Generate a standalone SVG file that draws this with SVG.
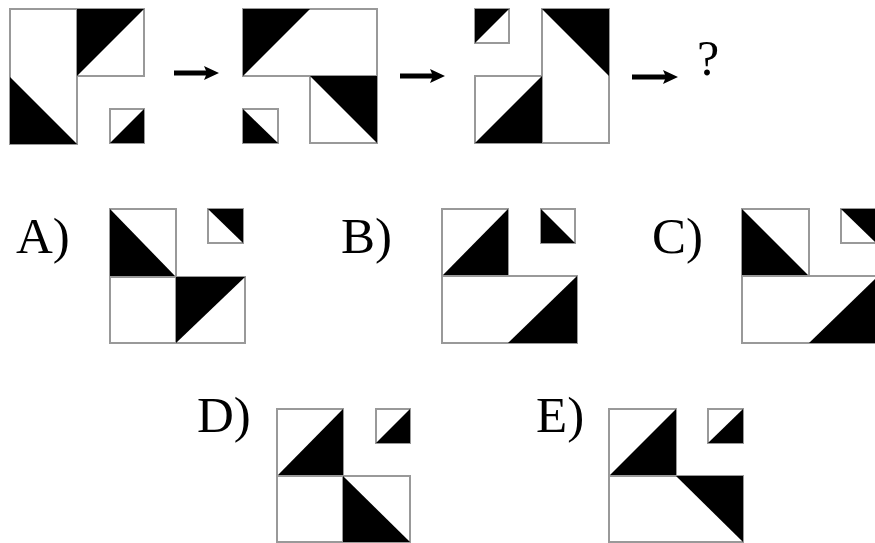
<svg xmlns="http://www.w3.org/2000/svg" width="875" height="543" viewBox="0 0 875 543">
<style>
.b{fill:#fff;stroke:#999;stroke-width:2}
.k{fill:#000}
.l{font-family:"Liberation Serif",serif;font-size:51px;fill:#000}
.a{stroke:#000;stroke-width:5}
</style>
<rect width="875" height="543" fill="#fff"/>
<g id="fig1">
<rect class="b" x="10" y="9" width="67" height="135"/>
<polygon class="k" points="10,77 10,144 77,144"/>
<rect class="b" x="77" y="9" width="67" height="67"/>
<polygon class="k" points="77,9 144,9 77,76"/>
<rect class="b" x="110" y="109" width="34" height="34"/>
<polygon class="k" points="110,143 144,109 144,143"/>
</g>
<g id="fig2">
<rect class="b" x="243" y="9" width="134" height="67"/>
<polygon class="k" points="243,9 310,9 243,76"/>
<rect class="b" x="310" y="76" width="67" height="67"/>
<polygon class="k" points="310,76 377,76 377,143"/>
<rect class="b" x="243" y="109" width="35" height="34"/>
<polygon class="k" points="243,109 243,143 278,143"/>
</g>
<g id="fig3">
<rect class="b" x="475" y="9" width="34" height="34"/>
<polygon class="k" points="475,9 509,9 475,43"/>
<rect class="b" x="542" y="9" width="67" height="134"/>
<polygon class="k" points="542,9 609,9 609,76"/>
<rect class="b" x="475" y="76" width="67" height="67"/>
<polygon class="k" points="475,143 542,76 542,143"/>
</g>
<g id="question"><text class="l" x="697" y="75" style="font-size:50px">?</text></g>
<g id="connectors">
<line class="a" x1="174" y1="73" x2="210" y2="73"/>
<polygon class="k" points="204,66 219,73 204,80 207,73"/>
<line class="a" x1="400" y1="76" x2="436" y2="76"/>
<polygon class="k" points="430,69 445,76 430,83 433,76"/>
<line class="a" x1="632" y1="77" x2="669" y2="77"/>
<polygon class="k" points="663,70 678,77 663,84 666,77"/>
</g>
<g id="optA">
<text class="l" x="16" y="253">A)</text>
<rect class="b" x="110" y="209" width="66" height="68"/>
<polygon class="k" points="110,209 110,277 176,277"/>
<rect class="b" x="110" y="277" width="135" height="66"/>
<line x1="176" y1="277" x2="176" y2="343" stroke="#999" stroke-width="2"/>
<polygon class="k" points="176,277 245,277 176,343"/>
<rect class="b" x="208" y="209" width="35" height="34"/>
<polygon class="k" points="208,209 243,209 243,243"/>
</g>
<g id="optB">
<text class="l" x="341" y="253">B)</text>
<rect class="b" x="442" y="209" width="66" height="67"/>
<polygon class="k" points="442,276 508,209 508,276"/>
<rect class="b" x="442" y="276" width="135" height="67"/>
<polygon class="k" points="508,343 577,276 577,343"/>
<rect class="b" x="541" y="209" width="34" height="34"/>
<polygon class="k" points="541,209 541,243 575,243"/>
</g>
<g id="optC">
<text class="l" x="652" y="253">C)</text>
<rect class="b" x="742" y="209" width="67" height="67"/>
<polygon class="k" points="742,209 742,276 809,276"/>
<rect class="b" x="742" y="276" width="136" height="67"/>
<polygon class="k" points="809,343 878,276 878,343"/>
<rect class="b" x="841" y="209" width="35" height="34"/>
<polygon class="k" points="841,209 876,209 876,243"/>
</g>
<g id="optD">
<text class="l" x="197" y="432">D)</text>
<rect class="b" x="277" y="409" width="66" height="67"/>
<polygon class="k" points="277,476 343,409 343,476"/>
<rect class="b" x="277" y="476" width="133" height="66"/>
<line x1="343" y1="476" x2="343" y2="542" stroke="#999" stroke-width="2"/>
<polygon class="k" points="343,476 343,542 410,542"/>
<rect class="b" x="376" y="409" width="34" height="34"/>
<polygon class="k" points="376,443 410,409 410,443"/>
</g>
<g id="optE">
<text class="l" x="536" y="432">E)</text>
<rect class="b" x="609" y="409" width="67" height="67"/>
<polygon class="k" points="609,476 676,409 676,476"/>
<rect class="b" x="609" y="476" width="134" height="66"/>
<polygon class="k" points="676,476 743,476 743,542"/>
<rect class="b" x="708" y="409" width="35" height="34"/>
<polygon class="k" points="708,443 743,409 743,443"/>
</g>
</svg>
